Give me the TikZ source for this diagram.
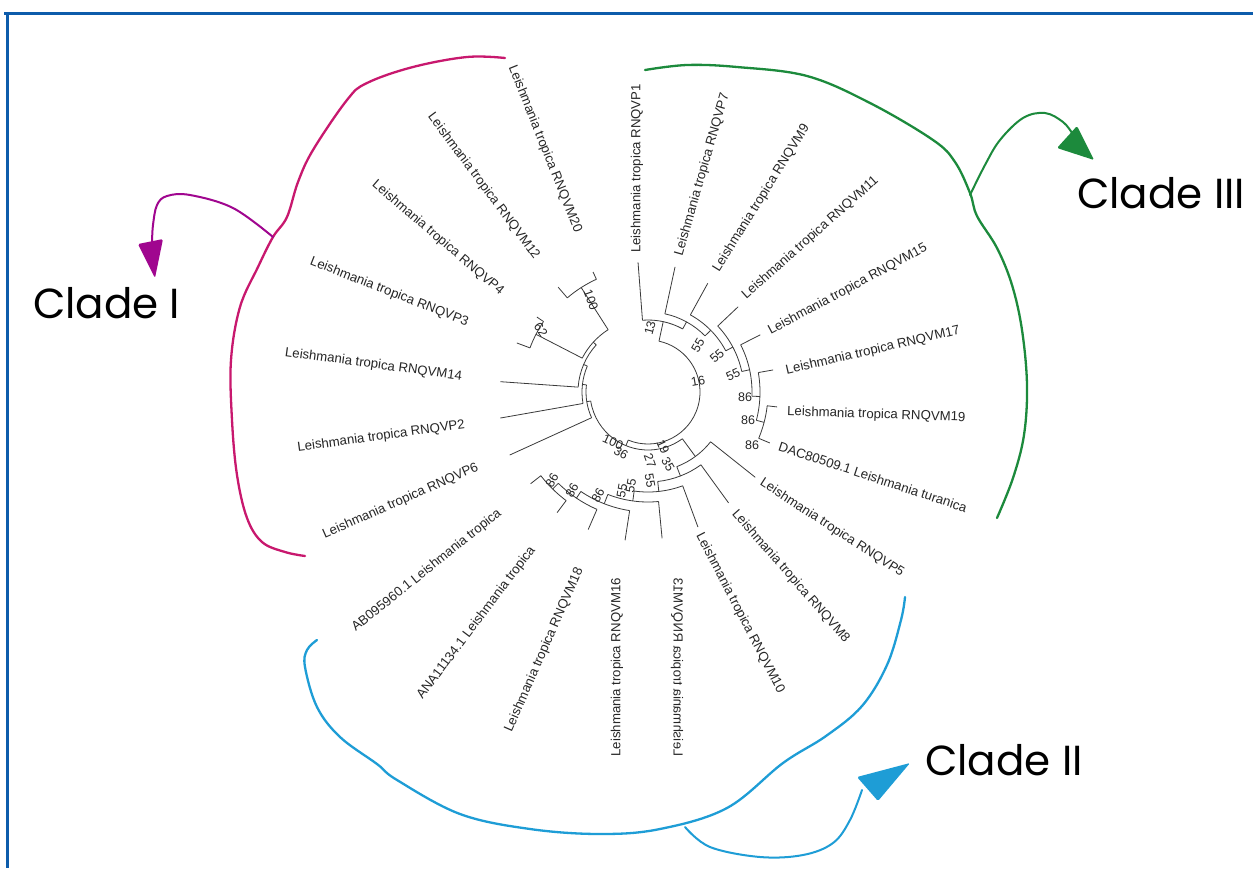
\documentclass[tikz,border=0pt]{standalone}
\usepackage{fontspec}
\setmainfont{Liberation Sans}
\newfontfamily\handfont{Poppins}
\definecolor{treec}{HTML}{3A3A3A}
\definecolor{magc}{HTML}{C8186E}
\definecolor{purc}{HTML}{A0068F}
\definecolor{grnc}{HTML}{1C8A3C}
\definecolor{bluc}{HTML}{1E9DD6}
\definecolor{framec}{HTML}{0D5CAB}
\tikzset{
  treeline/.style={draw=treec, line width=0.8pt},
  leafR/.style={font=\fontsize{13.2}{13.2}\selectfont, inner sep=0pt, anchor=west, text=black!85},
  leafL/.style={font=\fontsize{13.2}{13.2}\selectfont, inner sep=0pt, anchor=east, text=black!85},
  boot/.style={font=\fontsize{12.5}{12.5}\selectfont, inner sep=0pt, text=black!85},
  cladeline/.style={line width=2.3pt, line cap=round, line join=round},
  cladetext/.style={font=\handfont\fontsize{42}{42}\selectfont, inner sep=0pt, anchor=base west}
}
\newcommand{\TArc}[3]{\draw[treeline] (#2:#1) arc[start angle=#2, end angle=#3, radius=#1];}
\newcommand{\TRad}[3]{\draw[treeline] (#1:#2) -- (#1:#3);}
\begin{document}
\begin{tikzpicture}[x=1pt,y=-1pt]
\useasboundingbox (0,0) rectangle (1253,868);
\fill[white] (0,0) rectangle (1253,868);
% frame
\draw[framec, line width=3pt] (4,13) -- (1253,13);
\draw[framec, line width=3pt] (7,12) -- (7,868);

% ---------------- tree ----------------
\begin{scope}[shift={(648,392)}, y={(0pt,1pt)}]
% clade III
\TArc{120}{-22.7}{-6.6}
\TRad{-6.6}{120}{130}
\TRad{-22.7}{120}{132}
\TArc{112}{-14.65}{10}
\TRad{-14.65}{112}{120}
\TRad{10}{112}{127}
\TArc{104}{-2.3}{27}
\TRad{-2.3}{104}{112}
\TRad{27}{104}{126}
\TArc{96}{12.35}{43.4}
\TRad{12.35}{96}{104}
\TRad{43.4}{96}{124}
\TArc{88}{27.9}{61.2}
\TRad{27.9}{88}{96}
\TRad{61.2}{88}{124}
\TArc{80}{44.55}{77.8}
\TRad{44.55}{80}{88}
\TRad{77.8}{80}{128}
\TArc{72}{61.2}{94.4}
\TRad{61.2}{72}{80}
\TRad{94.4}{72}{130}
% clade II
\TArc{136}{-142}{-127}
\TRad{-127}{136}{151}
\TRad{-142}{136}{149}
\TArc{128}{-134.5}{-113.5}
\TRad{-134.5}{128}{136}
\TRad{-113.5}{128}{150}
\TArc{120}{-124}{-98.8}
\TRad{-124}{120}{128}
\TRad{-98.8}{120}{150}
\TArc{110}{-111.4}{-84.5}
\TRad{-111.4}{110}{120}
\TRad{-84.5}{110}{147}
\TArc{100}{-97.95}{-69.7}
\TRad{-97.95}{100}{110}
\TRad{-69.7}{100}{144}
\TArc{90}{-83.8}{-54}
\TRad{-83.8}{90}{100}
\TRad{-54}{90}{137}
\TArc{80}{-68.9}{-38.5}
\TRad{-68.9}{80}{90}
\TRad{-38.5}{80}{137}
% clade I
\TArc{124}{-245.4}{-229.4}
\TRad{-229.4}{124}{138}
\TRad{-245.4}{124}{132}
\TArc{126}{-214}{-200.5}
\TRad{-214}{126}{134}
\TRad{-200.5}{126}{140}
\TArc{74}{-237.4}{-207.25}
\TRad{-237.4}{74}{124}
\TRad{-207.25}{74}{126}
\TArc{70}{-222.3}{-184}
\TRad{-222.3}{70}{74}
\TRad{-184}{70}{148}
\TArc{66}{-203.15}{-170}
\TRad{-203.15}{66}{70}
\TRad{-170}{66}{150}
\TArc{62}{-186.6}{-155.5}
\TRad{-186.6}{62}{66}
\TRad{-155.5}{62}{152}
% deep nodes
\TArc{58}{-171.05}{-53.7}
\TRad{-171.05}{58}{62}
\TRad{-53.7}{58}{80}
\TArc{52}{-112.375}{77.8}
\TRad{-112.375}{52}{58}
\TRad{77.8}{52}{72}
\end{scope}

% ---------------- leaf labels ----------------
\node[leafR, rotate=90] (vp1) at (637,253) {Leishmania tropica RNQVP1};
\node[leafR, rotate=74] (vp7) at (679,256) {Leishmania tropica RNQVP7};
\node[leafR, rotate=58] (vm9) at (716,271) {Leishmania tropica RNQVM9};
\node[leafR, rotate=41.6] (vm11) at (744,297) {Leishmania tropica RNQVM11};
\node[leafR, rotate=28.3] (vm15) at (769,332) {Leishmania tropica RNQVM15};
\node[leafR, rotate=13.1] (vm17) at (786,371) {Leishmania tropica RNQVM17};
\node[leafR, rotate=-1.9] (vm19) at (787,412) {Leishmania tropica RNQVM19};
\node[leafR, rotate=-18.3] (dac) at (779,446) {DAC80509.1 Leishmania turanica};
\node[leafR, rotate=-33] (vp5) at (761,482) {Leishmania tropica RNQVP5};
\node[leafR, rotate=-48.7] (vm8) at (734,512) {Leishmania tropica RNQVM8};
\node[leafR, rotate=-62.6] (vm10) at (699,534) {Leishmania tropica RNQVM10};
\node[leafL, rotate=90, yscale=-1] (vm13) at (677,578) {Leishmania tropica RNQVM13};
\node[leafL, rotate=90] (vm16) at (617,578) {Leishmania tropica RNQVM16};
\node[leafL, rotate=66.4] (vm18) at (580,568) {Leishmania tropica RNQVM18};
\node[leafL, rotate=52.9] (ana) at (533,548) {ANA11134.1 Leishmania tropica};
\node[leafL, rotate=38.7] (ab) at (500,512) {AB095960.1 Leishmania tropica};
\node[leafL, rotate=23.9] (vp6) at (478,467) {Leishmania tropica RNQVP6};
\node[leafL, rotate=7.8] (vp2) at (465,425) {Leishmania tropica RNQVP2};
\node[leafL, rotate=-7.8] (vm14) at (462,377) {Leishmania tropica RNQVM14};
\node[leafL, rotate=-21.4] (vp3) at (468,323) {Leishmania tropica RNQVP3};
\node[leafL, rotate=-40.6] (vp4) at (502,293) {Leishmania tropica RNQVP4};
\node[leafL, rotate=-53.3] (vm12) at (537,258) {Leishmania tropica RNQVM12};
\node[leafL, rotate=-68.2] (vm20) at (578,232) {Leishmania tropica RNQVM20};

% ---------------- bootstrap values ----------------
\node[boot, rotate=-70] (b1) at (591,300) {100};
\node[boot, rotate=-55] (b2) at (541,330) {62};
\node[boot, rotate=75] (b3) at (650,328) {13};
\node[boot, rotate=60] (b4) at (698,345) {55};
\node[boot, rotate=42] (b5) at (717,356) {55};
\node[boot, rotate=25] (b6) at (733,375) {55};
\node[boot, rotate=10] (b7) at (698,381) {16};
\node[boot] (b8) at (745,397) {86};
\node[boot] (b9) at (748,420) {86};
\node[boot] (b10) at (752,445) {86};
\node[boot, rotate=-25] (b11) at (613,442) {100};
\node[boot, rotate=-30] (b12) at (621,453) {36};
\node[boot, rotate=-65] (b13) at (663,447) {19};
\node[boot, rotate=-60] (b14) at (668,464) {35};
\node[boot, rotate=-70] (b15) at (650,461) {27};
\node[boot, rotate=-80] (b16) at (650,481) {55};
\node[boot, rotate=80] (b17) at (631,486) {55};
\node[boot, rotate=80] (b18) at (622,491) {55};
\node[boot, rotate=60] (b19) at (598,495) {86};
\node[boot, rotate=60] (b20) at (572,490) {86};
\node[boot, rotate=60] (b21) at (552,480) {86};

% ---------------- clade brackets ----------------
\draw[cladeline, magc] plot[smooth, tension=0.6] coordinates {(505,58) (467,57) (413,67) (367,83) (347,100) (313,150) (298,182) (287,217) (273,237) (258,267) (240,307) (231,360) (232,420) (237,475) (247,518) (262,542) (285,552) (305,556)};
\coordinate (m0) at (273,237);
\coordinate (m1) at (152,243);
\draw[cladeline, purc, line width=2pt] plot[smooth, tension=0.6] coordinates {(m0) (233,208) (190,195) (167,196) (157,205) (153,225) (m1)};
\fill[purc, rounded corners=1.5pt] (138,244) -- (163,239) -- (155,278) -- cycle;

\draw[cladeline, grnc] plot[smooth, tension=0.6] coordinates {(645,70) (687,65) (737,67) (807,76) (870,103) (933,140) (955,162) (970,193) (977,216) (997,248) (1012,285) (1022,330) (1027,385) (1024,435) (1013,478) (997,518)};
\coordinate (g0) at (970,195);
\coordinate (g1) at (1072,133);
\draw[cladeline, grnc, line width=2pt] plot[smooth, tension=0.6] coordinates {(g0) (985,165) (1000,140) (1023,118) (1045,113) (1063,122) (g1)};
\fill[grnc, rounded corners=1.5pt] (1057,148) -- (1077,126) -- (1094,160) -- cycle;

\draw[cladeline, bluc] plot[smooth, tension=0.6] coordinates {(905,597) (901,620) (887,665) (862,706) (826,736) (783,763) (727,808) (660,829) (600,834) (530,829) (460,814) (397,780) (377,764) (340,737) (317,707) (305,667) (307,650) (317,640)};
\coordinate (u0) at (685,827);
\coordinate (u1) at (862,790);
\draw[cladeline, bluc, line width=2pt] plot[smooth, tension=0.6] coordinates {(u0) (710,847) (760,857) (803,855) (833,843) (850,820) (u1)};
\fill[bluc, rounded corners=1.5pt] (857,777) -- (878,801) -- (910,763) -- cycle;

% ---------------- clade names ----------------
\node[cladetext] (c1) at (33,318) {Clade I};
\node[cladetext] (c3) at (1077,208) {Clade III};
\node[cladetext] (c2) at (925,775) {Clade II};
\end{tikzpicture}
\end{document}
